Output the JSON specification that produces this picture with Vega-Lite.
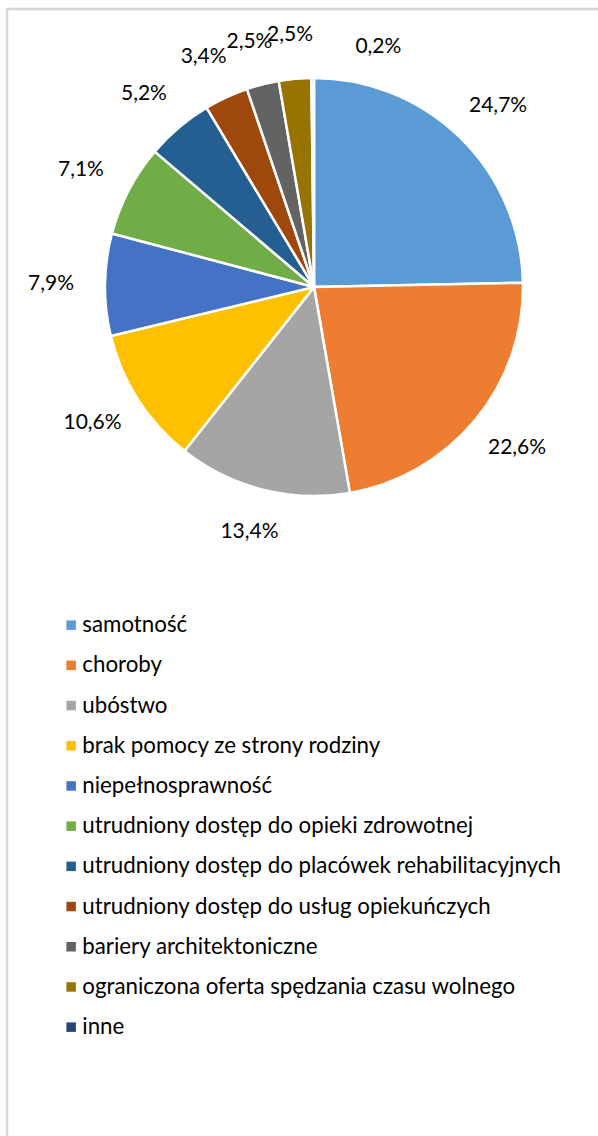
{
  "$schema": "https://vega.github.io/schema/vega-lite/v6.json",
  "autosize": "none",
  "width": 640,
  "height": 1200,
  "padding": {"left": 7, "top": 9, "right": 0, "bottom": 0},
  "background": "white",
  "config": {
    "view": {"stroke": "#d6d6d6", "strokeWidth": 2.5},
    "font": "Lato"
  },
  "data": {
    "values": [
      {"idx": 1, "cat": "samotność", "pct": 24.7, "lab": "24,7%"},
      {"idx": 2, "cat": "choroby", "pct": 22.6, "lab": "22,6%"},
      {"idx": 3, "cat": "ubóstwo", "pct": 13.4, "lab": "13,4%"},
      {"idx": 4, "cat": "brak pomocy ze strony rodziny", "pct": 10.6, "lab": "10,6%"},
      {"idx": 5, "cat": "niepełnosprawność", "pct": 7.9, "lab": "7,9%"},
      {"idx": 6, "cat": "utrudniony dostęp do opieki zdrowotnej", "pct": 7.1, "lab": "7,1%"},
      {"idx": 7, "cat": "utrudniony dostęp do placówek rehabilitacyjnych", "pct": 5.2, "lab": "5,2%"},
      {"idx": 8, "cat": "utrudniony dostęp do usług opiekuńczych", "pct": 3.4, "lab": "3,4%"},
      {"idx": 9, "cat": "bariery architektoniczne", "pct": 2.5, "lab": "2,5%"},
      {"idx": 10, "cat": "ograniczona oferta spędzania czasu wolnego", "pct": 2.5, "lab": "2,5%"},
      {"idx": 11, "cat": "inne", "pct": 0.2, "lab": "0,2%"}
    ]
  },
  "encoding": {
    "x": {"datum": 307, "type": "quantitative", "scale": {"domain": [0, 640], "range": [0, 640], "nice": false, "zero": false}, "axis": null},
    "y": {"datum": 278, "type": "quantitative", "scale": {"domain": [0, 1200], "range": [0, 1200], "nice": false, "zero": false}, "axis": null},
    "theta": {"field": "pct", "type": "quantitative", "stack": true},
    "order": {"field": "idx", "type": "quantitative"}
  },
  "layer": [
    {
      "mark": {"type": "arc", "outerRadius": 209, "stroke": "white", "strokeWidth": 2.5},
      "encoding": {
        "color": {
          "field": "cat",
          "type": "nominal",
          "scale": {
            "domain": ["samotność", "choroby", "ubóstwo", "brak pomocy ze strony rodziny", "niepełnosprawność", "utrudniony dostęp do opieki zdrowotnej", "utrudniony dostęp do placówek rehabilitacyjnych", "utrudniony dostęp do usług opiekuńczych", "bariery architektoniczne", "ograniczona oferta spędzania czasu wolnego", "inne"],
            "range": ["#5B9BD5", "#ED7D31", "#A5A5A5", "#FFC000", "#4472C4", "#70AD47", "#255E91", "#9E480E", "#636363", "#997300", "#264478"]
          },
          "legend": {
            "title": null,
            "orient": "none",
            "legendX": 53,
            "legendY": 605,
            "padding": 0,
            "symbolType": "square",
            "symbolSize": 90,
            "symbolStrokeWidth": 0,
            "symbolOpacity": 1,
            "labelFont": "Lato",
            "labelFontSize": 22.3,
            "labelColor": "#000000",
            "labelOffset": 0,
            "labelLimit": 600,
            "rowPadding": 17.2,
            "direction": "vertical"
          }
        }
      }
    },
    {
      "mark": {
        "type": "text",
        "radius": 253,
        "fontSize": 21,
        "font": "Lato",
        "color": "#000000",
        "align": "center",
        "baseline": "middle",
        "dx": {"expr": "datum.pct < 1 ? 66 : 10 * sin(PI * (datum.pct_start + datum.pct_end) / 100.1)"},
        "dy": {"expr": "datum.pct < 1 ? 13 : 0"}
      },
      "encoding": {
        "text": {"field": "lab", "type": "nominal"}
      }
    }
  ]
}
